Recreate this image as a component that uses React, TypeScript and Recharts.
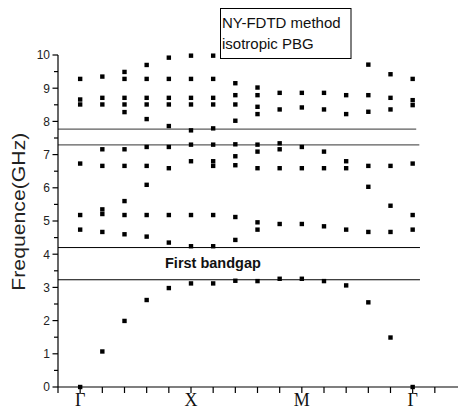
import React from 'react';
import { ScatterChart, Scatter, XAxis, YAxis, ReferenceLine } from 'recharts';

// k-path positions (Γ = 0, X = 5, M = 10, Γ = 15)
const kTicks = [-1, 0, 1, 2, 3, 4, 5, 6, 7, 8, 9, 10, 11, 12, 13, 14, 15, 16];
const kLabelPositions = [0, 5, 10, 15];
const kLabelNames = ['Γ', 'X', 'M', 'Γ'];
const freqTicks = [0, 0.5, 1, 1.5, 2, 2.5, 3, 3.5, 4, 4.5, 5, 5.5, 6, 6.5, 7, 7.5, 8, 8.5, 9, 9.5, 10];

// eigen-frequencies (GHz) at each k-point
const freqK0 = [0, 4.74, 5.18, 6.73, 8.51, 8.66, 9.28];
const freqK1 = [1.07, 4.67, 5.21, 5.35, 6.66, 7.16, 8.51, 8.71, 9.35];
const freqK2 = [1.99, 4.6, 5.18, 5.6, 6.66, 7.16, 8.28, 8.51, 8.71, 9.28, 9.49];
const freqK3 = [2.62, 4.53, 5.18, 6.09, 6.66, 7.23, 8.07, 8.51, 8.71, 9.28, 9.7];
const freqK4 = [2.98, 4.35, 5.18, 6.59, 7.23, 7.86, 8.51, 8.71, 9.28, 9.92];
const freqK5 = [3.12, 4.24, 5.18, 6.8, 7.3, 7.73, 8.51, 8.71, 9.28, 9.98];
const freqK6 = [3.12, 4.24, 5.18, 6.66, 6.8, 7.3, 7.79, 8.51, 8.71, 9.28, 9.98];
const freqK7 = [3.2, 4.43, 5.12, 6.68, 6.95, 7.31, 8.02, 8.51, 8.79, 9.15];
const freqK8 = [3.19, 4.74, 4.96, 6.59, 7.09, 7.3, 8.22, 8.44, 8.79, 9.02];
const freqK9 = [3.26, 4.91, 6.59, 7.16, 7.34, 8.36, 8.86];
const freqK10 = [3.26, 4.91, 6.59, 7.23, 8.42, 8.86];
const freqK11 = [3.19, 4.84, 6.59, 7.09, 8.36, 8.86];
const freqK12 = [3.06, 4.74, 6.59, 6.8, 8.22, 8.79];
const freqK13 = [2.55, 4.67, 6.03, 6.66, 8.29, 8.79, 9.71];
const freqK14 = [1.49, 4.67, 5.46, 6.66, 8.36, 8.71, 9.42];
const freqK15 = [0, 4.74, 5.18, 6.73, 8.49, 8.64, 9.28];

const columns = [freqK0, freqK1, freqK2, freqK3, freqK4, freqK5, freqK6, freqK7, freqK8, freqK9, freqK10, freqK11, freqK12, freqK13, freqK14, freqK15];

// gap boundary lines
const upperGapLines = [7.29, 7.77];
const firstGapLines = [3.23, 4.2];
const upperGapEnd = [15.3, 15.16];
const firstGapEnd = [15.33, 15.33];

const points = columns.flatMap((col, k) => col.map((f) => ({ k, f })));

// chart geometry
const CHART_W = 458;
const CHART_H = 411;
const MARGIN = { top: 55, right: 1, bottom: 0, left: 0 };
const Y_AXIS_W = 58;
const X_AXIS_H = 24;
const K_MIN = -1;
const K_MAX = 17;
const F_MIN = 0;
const F_MAX = 10;

const PLOT_LEFT = MARGIN.left + Y_AXIS_W;
const PLOT_RIGHT = CHART_W - MARGIN.right;
const PLOT_TOP = MARGIN.top;
const PLOT_BOTTOM = CHART_H - MARGIN.bottom - X_AXIS_H;
const kToPx = (k: number) => PLOT_LEFT + ((k - K_MIN) / (K_MAX - K_MIN)) * (PLOT_RIGHT - PLOT_LEFT);
const fToPx = (f: number) => PLOT_BOTTOM - ((f - F_MIN) / (F_MAX - F_MIN)) * (PLOT_BOTTOM - PLOT_TOP);

const SquareDot = (props: any) => {
  const { cx, cy } = props;
  if (cx == null || cy == null) return <g />;
  return <rect x={cx - 2.2} y={cy - 2.2} width={4.4} height={4.4} fill="#000" />;
};

const XTick = (props: any) => {
  const { x, y, payload } = props;
  const idx = kLabelPositions.indexOf(payload.value);
  if (idx < 0) return <g />;
  return (
    <text x={x} y={y} dy={11} textAnchor="middle" fontFamily="'Liberation Serif', 'Times New Roman', serif" fontSize={18} fill="#111">
      {kLabelNames[idx]}
    </text>
  );
};

const YTick = (props: any) => {
  const { x, y, payload } = props;
  if (!Number.isInteger(payload.value)) return <g />;
  return (
    <text x={x} y={y} dy={4.3} textAnchor="end" fontFamily="'Liberation Sans', Arial, sans-serif" fontSize={12} fill="#222">
      {payload.value}
    </text>
  );
};

export default function App() {
  return (
    <div style={{ position: 'absolute', left: 0, top: 0, width: CHART_W, height: CHART_H, background: '#fff' }}>
      <ScatterChart width={CHART_W} height={CHART_H} margin={MARGIN}>
        <XAxis
          type="number"
          dataKey="k"
          domain={[K_MIN, K_MAX]}
          ticks={kTicks}
          interval={0}
          height={X_AXIS_H}
          tickSize={6}
          tickMargin={2}
          axisLine={false}
          tickLine={false}
          tick={<XTick />}
        />
        <YAxis
          type="number"
          dataKey="f"
          domain={[F_MIN, F_MAX]}
          ticks={freqTicks}
          interval={0}
          width={Y_AXIS_W}
          tickSize={5}
          tickMargin={3}
          axisLine={false}
          tickLine={false}
          tick={<YTick />}
        />
        {upperGapLines.map((v, i) => (
          <ReferenceLine
            key={'u' + i}
            segment={[{ x: K_MIN, y: v }, { x: upperGapEnd[i], y: v }]}
            stroke="#5c5c5c"
            strokeWidth={1.3}
            ifOverflow="visible"
          />
        ))}
        {firstGapLines.map((v, i) => (
          <ReferenceLine
            key={'f' + i}
            segment={[{ x: K_MIN, y: v }, { x: firstGapEnd[i], y: v }]}
            stroke="#000"
            strokeWidth={1}
            ifOverflow="visible"
          />
        ))}
        <Scatter data={points} shape={SquareDot} isAnimationActive={false} />
      </ScatterChart>
      <svg width={CHART_W} height={CHART_H} style={{ position: 'absolute', left: 0, top: 0, pointerEvents: 'none' }}>
        {/* axis frame */}
        <line x1={PLOT_LEFT} y1={PLOT_BOTTOM} x2={PLOT_RIGHT + 1} y2={PLOT_BOTTOM} stroke="#000" strokeWidth={1.2} />
        <line x1={PLOT_LEFT} y1={PLOT_TOP} x2={PLOT_LEFT} y2={PLOT_BOTTOM} stroke="#000" strokeWidth={1.2} />
        {kTicks.map((k) => (
          <line key={'xt' + k} x1={kToPx(k)} y1={PLOT_BOTTOM} x2={kToPx(k)} y2={PLOT_BOTTOM + 6} stroke="#000" strokeWidth={1.2} />
        ))}
        {freqTicks.map((f) => (
          <line
            key={'yt' + f}
            x1={PLOT_LEFT - (Number.isInteger(f) ? 5.5 : 4)}
            y1={fToPx(f)}
            x2={PLOT_LEFT}
            y2={fToPx(f)}
            stroke="#000"
            strokeWidth={1.2}
          />
        ))}
        <rect x={220.5} y={8.5} width={130.5} height={50} fill="#fff" stroke="#000" strokeWidth={1} />
        <text x={222} y={28} fontFamily="'Liberation Sans', Arial, sans-serif" fontSize={15} fill="#111">NY-FDTD method</text>
        <text x={222} y={49} fontFamily="'Liberation Sans', Arial, sans-serif" fontSize={15} fill="#111">isotropic PBG</text>
        <text x={165} y={267.5} fontFamily="'Liberation Sans', Arial, sans-serif" fontSize={14.5} fontWeight="bold" fill="#111">First bandgap</text>
        <text
          transform="translate(25,211.7) rotate(-90)"
          textAnchor="middle"
          fontFamily="'Liberation Sans', Arial, sans-serif"
          fontSize={18.5}
          textLength={158}
          lengthAdjust="spacingAndGlyphs"
          fill="#222"
        >
          Frequence(GHz)
        </text>
      </svg>
    </div>
  );
}
